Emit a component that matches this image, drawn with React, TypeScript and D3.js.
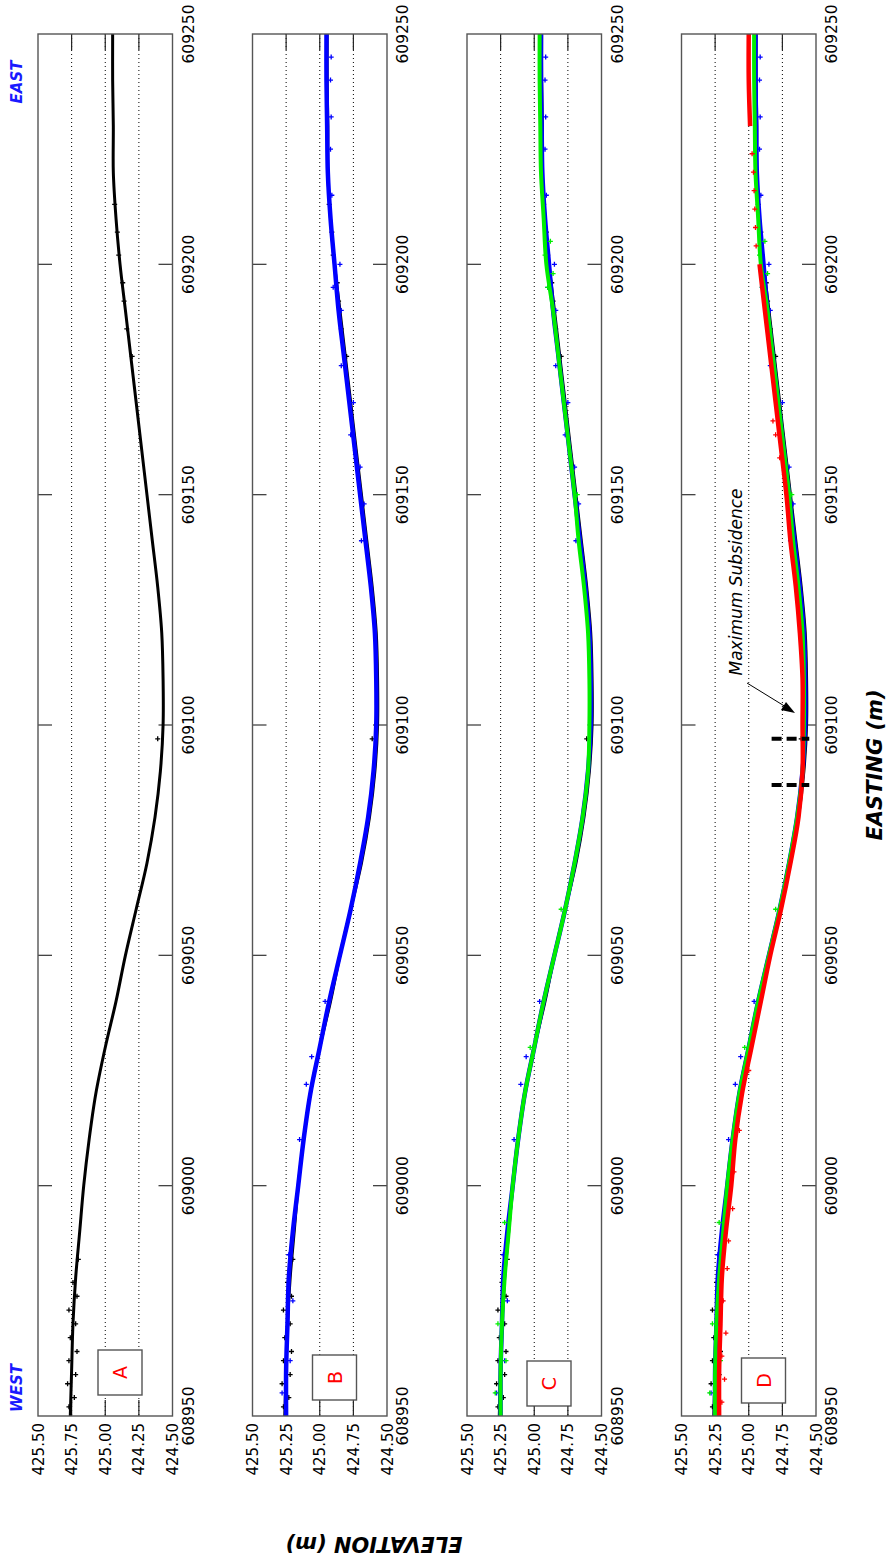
import React, { useEffect, useRef } from 'react';
import * as d3 from 'd3';

// profile, every 10 m of easting
const eastings = [
  608950, 608960, 608970, 608980, 608990, 609000, 609010, 609020, 609030, 609040, 609050,
  609060, 609070, 609080, 609090, 609100, 609110, 609120, 609130, 609140, 609150,
  609160, 609170, 609180, 609190, 609200, 609210, 609220, 609230, 609240, 609250,
];
const elevBlack = [
  425.26, 425.25, 425.24, 425.22, 425.19, 425.16, 425.12, 425.07, 425.0, 424.92, 424.85,
  424.77, 424.69, 424.63, 424.59, 424.57, 424.57, 424.58, 424.61, 424.65, 424.69,
  424.73, 424.77, 424.81, 424.85, 424.89, 424.92, 424.94, 424.94, 424.945, 424.945,
];
const elevBlue = [
  425.25, 425.25, 425.24, 425.23, 425.2, 425.16, 425.12, 425.07, 425.0, 424.93, 424.85,
  424.77, 424.7, 424.64, 424.6, 424.58, 424.58, 424.59, 424.62, 424.66, 424.7,
  424.74, 424.78, 424.82, 424.86, 424.89, 424.92, 424.94, 424.945, 424.95, 424.95,
];
const elevGreen = [
  425.25, 425.25, 425.24, 425.22, 425.19, 425.16, 425.12, 425.07, 425.0, 424.93, 424.85,
  424.77, 424.7, 424.64, 424.6, 424.59, 424.59, 424.6, 424.63, 424.67, 424.7,
  424.74, 424.78, 424.82, 424.86, 424.91, 424.93, 424.95, 424.955, 424.96, 424.96,
];
const elevRed = [
  425.22, 425.22, 425.21, 425.2, 425.17, 425.13, 425.1, 425.05, 424.98, 424.91, 424.84,
  424.76, 424.69, 424.63, 424.6, 424.6, 424.6, 424.62, 424.65, 424.69, 424.72,
  424.76, 424.8, 424.84, 424.88, 424.92, null, null, 424.99, 425.0, 425.0,
];

// loose points around the lines [easting, elevation]
const scatterBlack = [
  [608952, 425.27], [608954, 425.23], [608957, 425.28], [608959, 425.22], [608962, 425.27],
  [608964, 425.21], [608967, 425.26], [608970, 425.22], [608973, 425.27], [608976, 425.21],
  [608979, 425.24], [608984, 425.2], [609180, 424.8], [609186, 424.84], [609192, 424.86],
  [609196, 424.87], [609202, 424.9], [609207, 424.91], [609213, 424.93], [609097, 424.61],
];
const scatterBlue = [
  [608955, 425.28], [608962, 425.22], [608975, 425.2], [608985, 425.23], [609010, 425.15],
  [609022, 425.1], [609028, 425.06], [609040, 424.96], [609140, 424.69], [609148, 424.67],
  [609156, 424.7], [609163, 424.77], [609170, 424.75], [609178, 424.84], [609190, 424.84],
  [609195, 424.9], [609200, 424.85], [609215, 424.91], [609225, 424.92], [609232, 424.915],
  [609240, 424.92], [609245, 424.915],
];
const scatterGreen = [
  [608955, 425.29], [608962, 425.21], [608970, 425.27], [608992, 425.22], [609030, 425.03],
  [609060, 424.8], [609150, 424.68], [609195, 424.9], [609198, 424.86], [609202, 424.92],
  [609205, 424.88],
];
const scatterRed = [
  [608953, 425.2], [608958, 425.18], [608963, 425.2], [608968, 425.17], [608975, 425.19],
  [608982, 425.16], [608988, 425.15], [608995, 425.12], [609003, 425.11], [609012, 425.07],
  [609025, 425.0], [609158, 424.77], [609163, 424.8], [609166, 424.82], [609204, 424.945],
  [609208, 424.95], [609212, 424.955], [609216, 424.96], [609220, 424.965], [609224, 424.975],
];

const eastTicks = [608950, 609000, 609050, 609100, 609150, 609200, 609250];
const elevTicks = [425.5, 425.25, 425.0, 424.75, 424.5];
const elevTickLabelsA = ['425.50', '425.75', '425.00', '424.25', '424.50'];
const elevTickLabels = ['425.50', '425.25', '425.00', '424.75', '424.50'];
const panelNames = ['A', 'B', 'C', 'D'];
const subsidenceEastings = [609097, 609087];
const subsidenceElev = [424.83, 424.55];

const series = [
  { elev: elevBlack, pts: scatterBlack, color: '#000000', width: 3 },
  { elev: elevBlue, pts: scatterBlue, color: '#0000ff', width: 4.5 },
  { elev: elevGreen, pts: scatterGreen, color: '#00ee00', width: 4 },
  { elev: elevRed, pts: scatterRed, color: '#ff0000', width: 4.5 },
];

const W = 889;
const H = 1564;

const App = () => {
  const ref = useRef(null);

  useEffect(() => {
    const svg = d3.select(ref.current);
    svg.selectAll('*').remove();

    const top = 34;
    const bottom = 1416;
    const panelW = 134.5;
    const lefts = [38, 252.5, 467, 681.5];
    const boxTops = [1350, 1355, 1361, 1358];

    const y = d3.scaleLinear().domain([608950, 609250]).range([bottom, top]);

    panelNames.forEach((name, p) => {
      const left = lefts[p];
      const x = d3.scaleLinear().domain([425.5, 424.5]).range([left, left + panelW]);
      const g = svg.append('g');

      // grid lines (dotted) with solid tick ends
      elevTicks.slice(1, -1).forEach((t) => {
        g.append('line')
          .attr('x1', x(t)).attr('x2', x(t))
          .attr('y1', top).attr('y2', bottom)
          .attr('stroke', '#000').attr('stroke-width', 1)
          .attr('stroke-dasharray', '1,3');
        [[top, top + 16], [bottom - 16, bottom]].forEach(([a, b]) => {
          g.append('line')
            .attr('x1', x(t)).attr('x2', x(t)).attr('y1', a).attr('y2', b)
            .attr('stroke', '#222').attr('stroke-width', 1.2);
        });
      });

      eastTicks.slice(1, -1).forEach((t) => {
        g.append('line')
          .attr('x1', left).attr('x2', left + 14).attr('y1', y(t)).attr('y2', y(t))
          .attr('stroke', '#444').attr('stroke-width', 1.3);
        g.append('line')
          .attr('x1', left + panelW - 14).attr('x2', left + panelW).attr('y1', y(t)).attr('y2', y(t))
          .attr('stroke', '#444').attr('stroke-width', 1.3);
      });

      // label box
      const bx = left + 60;
      const by = boxTops[p];
      g.append('rect')
        .attr('x', bx).attr('y', by).attr('width', 44).attr('height', 45)
        .attr('fill', '#fff').attr('stroke', '#555').attr('stroke-width', 1.4);
      g.append('text')
        .attr('transform', `translate(${bx + 22 + 7},${by + 22.5}) rotate(-90)`)
        .attr('text-anchor', 'middle')
        .attr('font-size', 19)
        .attr('fill', '#ff0000')
        .text(name);

      // data
      series.slice(0, p + 1).forEach((s) => {
        const rows = eastings.map((e, i) => ({ e, v: s.elev[i] }));
        const line = d3.line()
          .defined((d) => d.v != null)
          .x((d) => x(d.v))
          .y((d) => y(d.e))
          .curve(d3.curveCatmullRom.alpha(0.5));
        g.append('path')
          .attr('d', line(rows))
          .attr('fill', 'none')
          .attr('stroke', s.color)
          .attr('stroke-width', s.width)
          .attr('stroke-linejoin', 'round');
        g.selectAll(null)
          .data(s.pts)
          .enter()
          .append('path')
          .attr('d', (d) => {
            const cx = x(d[1]);
            const cy = y(d[0]);
            return `M${cx - 2.5},${cy}H${cx + 2.5}M${cx},${cy - 2.5}V${cy + 2.5}`;
          })
          .attr('stroke', s.color)
          .attr('stroke-width', 1.3);
      });

      // frame
      g.append('rect')
        .attr('x', left).attr('y', top).attr('width', panelW).attr('height', bottom - top)
        .attr('fill', 'none').attr('stroke', '#555').attr('stroke-width', 1.4);

      // tick labels
      const labels = p === 0 ? elevTickLabelsA : elevTickLabels;
      elevTicks.forEach((t, i) => {
        g.append('text')
          .attr('transform', `translate(${x(t) + 5.5},${bottom + 7}) rotate(-90)`)
          .attr('text-anchor', 'end')
          .attr('font-size', 15)
          .text(labels[i]);
      });
      eastTicks.forEach((t) => {
        g.append('text')
          .attr('transform', `translate(${left + panelW + 21},${y(t)}) rotate(-90)`)
          .attr('text-anchor', 'middle')
          .attr('font-size', 15.5)
          .text(String(t));
      });

      if (p === 3) {
        subsidenceEastings.forEach((e) => {
          g.append('line')
            .attr('x1', x(subsidenceElev[0])).attr('x2', x(subsidenceElev[1]))
            .attr('y1', y(e)).attr('y2', y(e))
            .attr('stroke', '#000').attr('stroke-width', 4)
            .attr('stroke-dasharray', '10,5');
        });
        g.append('text')
          .attr('transform', 'translate(742,582) rotate(-90)')
          .attr('text-anchor', 'middle')
          .attr('font-size', 17)
          .attr('font-style', 'italic')
          .text('Maximum Subsidence');
        g.append('line')
          .attr('x1', 747).attr('y1', 683).attr('x2', 786).attr('y2', 707)
          .attr('stroke', '#000').attr('stroke-width', 1);
        g.append('path')
          .attr('d', 'M795,713L781,710L786,702Z')
          .attr('fill', '#000');
      }
    });

    svg.append('text')
      .attr('transform', 'translate(22,1388) rotate(-90)')
      .attr('text-anchor', 'middle')
      .attr('font-size', 15).attr('font-weight', 'bold').attr('font-style', 'italic')
      .attr('fill', '#1a1aff')
      .text('WEST');
    svg.append('text')
      .attr('transform', 'translate(22,82) rotate(-90)')
      .attr('text-anchor', 'middle')
      .attr('font-size', 15).attr('font-weight', 'bold').attr('font-style', 'italic')
      .attr('fill', '#1a1aff')
      .text('EAST');

    svg.append('text')
      .attr('transform', 'translate(882,765) rotate(-90)')
      .attr('text-anchor', 'middle')
      .attr('font-size', 21).attr('font-weight', 'bold').attr('font-style', 'italic')
      .text('EASTING (m)');
    svg.append('text')
      .attr('transform', 'translate(374,1537) rotate(180)')
      .attr('text-anchor', 'middle')
      .attr('font-size', 21).attr('font-weight', 'bold').attr('font-style', 'italic')
      .text('ELEVATION (m)');
  }, []);

  return (
    <svg
      ref={ref}
      width={W}
      height={H}
      style={{ position: 'absolute', left: 0, top: 0, background: '#fff' }}
      fontFamily="DejaVu Sans, sans-serif"
    />
  );
};

export default App;
